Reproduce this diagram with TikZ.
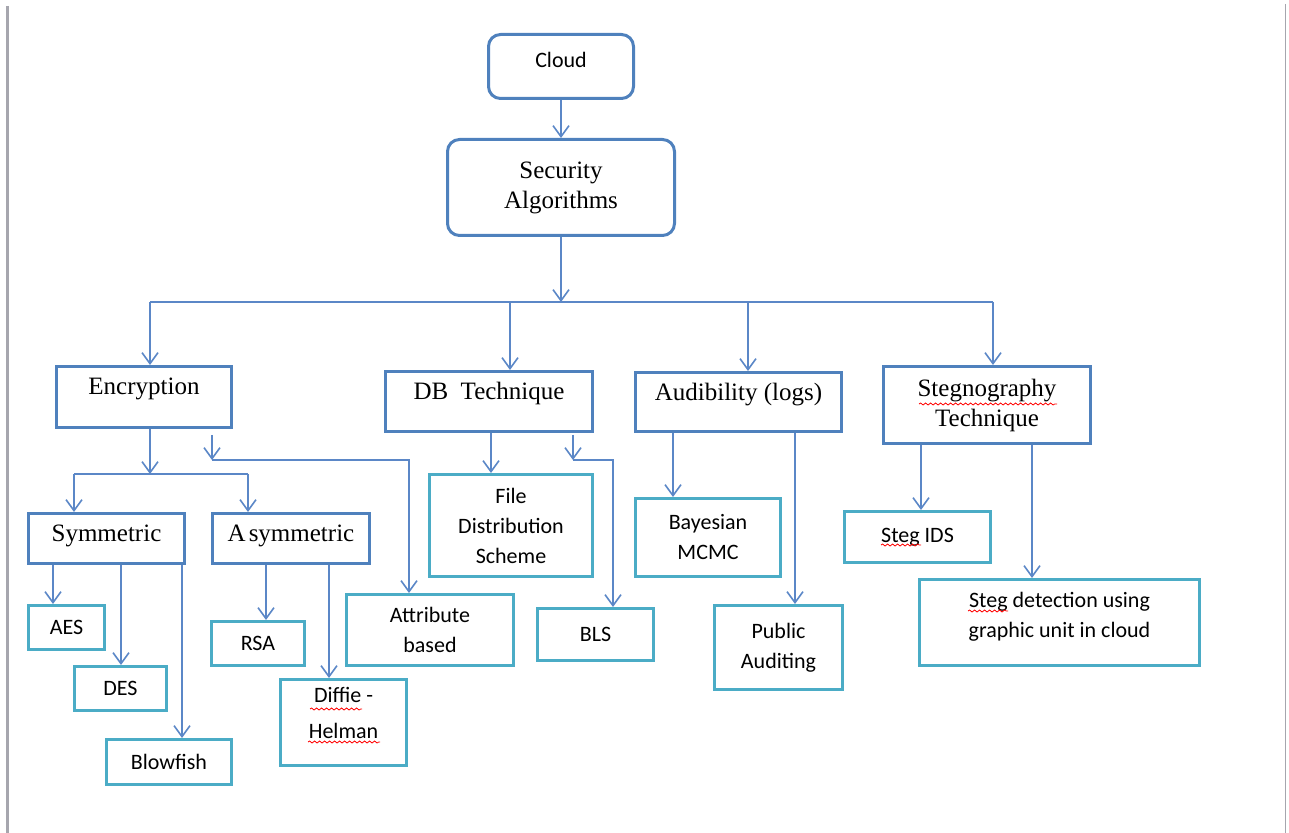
\documentclass[tikz,border=0pt]{standalone}
\usepackage{fontspec}
\setmainfont{Liberation Serif}
\newfontfamily\calibri{Carlito}
\usetikzlibrary{arrows.meta,decorations.pathmorphing}
\definecolor{boxblue}{HTML}{4F81BD}
\definecolor{boxteal}{HTML}{4BACC6}
\definecolor{linkblue}{HTML}{5B87C7}
\definecolor{edgegray}{HTML}{A6A6AE}

\begin{document}
\begin{tikzpicture}[
  x=0.5pt, y=-0.5pt,
  mainbox/.style={draw=boxblue,line width=1.5pt,align=center,inner sep=2pt,font=\fontsize{12.5}{15}\selectfont},
  roundbox/.style={mainbox,rounded corners=6pt},
  subbox/.style={draw=boxteal,line width=1.5pt,align=center,inner sep=2pt,font=\calibri\fontsize{11}{15}\selectfont},
  hightext/.style={text depth=10.5pt},
  link/.style={draw=linkblue,line width=0.8pt},
  arr/.style={link,-{Straight Barb[length=5.5pt,width=8pt]}},
  spell/.style={draw=red,line width=0.4pt,decorate,decoration={snake,amplitude=0.5pt,segment length=2.5pt}}
]
  \useasboundingbox (0,0) rectangle (1289,833);
  \draw[edgegray,line width=1.5pt] (7.5,6) -- (7.5,833);
  \draw[edgegray,line width=0.8pt] (1285.5,4) -- (1285.5,833);

  \node[roundbox,font=\calibri\fontsize{11}{15}\selectfont,text depth=6.7pt,minimum width=72.5pt,minimum height=32pt] (cloud) at (561,66.5) {Cloud};
  \node[roundbox,minimum width=113.5pt,minimum height=48pt] (secalg) at (561,187.5) {Security\\Algorithms};

  \node[mainbox,hightext,minimum width=87.5pt,minimum height=30.5pt] (encr) at (144,397) {Encryption};
  \node[mainbox,hightext,minimum width=103.5pt,minimum height=30pt] (dbtech) at (489,401.5) {DB\ \ Technique};
  \node[mainbox,hightext,minimum width=103pt,minimum height=29.5pt] (audit) at (738.5,402) {Audibility (logs)};
  \node[mainbox,minimum width=103.5pt,minimum height=38.5pt] (stegtech) at (987,405) {Stegnography\\Technique};

  \node[mainbox,text depth=5pt,minimum width=78pt,minimum height=25pt] (sym) at (106.5,538.5) {Symmetric};
  \node[mainbox,text depth=5pt,minimum width=78.5pt,minimum height=25pt] (asym) at (291,538.5) {A\kern1.5pt symmetric};

  \node[subbox,minimum width=38pt,minimum height=22pt] (aes) at (66.5,627.5) {AES};
  \node[subbox,minimum width=46pt,minimum height=22pt] (des) at (120.5,688.5) {DES};
  \node[subbox,minimum width=62.5pt,minimum height=22.5pt] (blow) at (169,762) {Blowfish};
  \node[subbox,minimum width=46.5pt,minimum height=22pt] (rsa) at (258,643.5) {RSA};
  \node[subbox,text depth=9.5pt,minimum width=63pt,minimum height=43pt,font=\calibri\fontsize{11}{18}\selectfont] (diff) at (343.5,722.5) {Diffie -\\Helman};
  \node[subbox,minimum width=83.5pt,minimum height=35.5pt] (attr) at (430,630) {Attribute\\based};
  \node[subbox,minimum width=81.5pt,minimum height=51pt] (file) at (511,525.5) {File\\Distribution\\Scheme};
  \node[subbox,minimum width=58pt,minimum height=26pt] (bls) at (595.5,634.5) {BLS};
  \node[subbox,minimum width=72.5pt,minimum height=39pt] (bayes) at (708,537.5) {Bayesian\\MCMC};
  \node[subbox,minimum width=64pt,minimum height=42pt] (pub) at (778.5,647.5) {Public\\Auditing};
  \node[subbox,minimum width=73pt,minimum height=25.5pt] (stegids) at (917.5,537) {Steg IDS};
  \node[subbox,text depth=7.3pt,minimum width=140pt,minimum height=43pt] (stegdet) at (1059.5,622.5) {Steg detection using\\graphic unit in cloud};

  \draw[arr] (cloud.south) -- (secalg.north);
  \coordinate (topbus) at (561,302);
  \coordinate (dEnc) at (150,302);
  \coordinate (dDb) at (510,302);
  \coordinate (dAud) at (748,302);
  \coordinate (dSteg) at (993,302);
  \draw[arr] (secalg.south) -- (topbus);
  \draw[link] (dEnc) -- (dSteg);
  \foreach \d/\n in {dEnc/encr,dDb/dbtech,dAud/audit,dSteg/stegtech}
    \draw[arr] (\d) -- (\d |- \n.north);

  \coordinate (eBus) at (150,474);
  \coordinate (eSym) at (74,474);
  \coordinate (eAsym) at (248,474);
  \draw[arr] (eBus |- encr.south) -- (eBus);
  \draw[link] (eSym) -- (eAsym);
  \draw[arr] (eSym) -- (eSym |- sym.north);
  \draw[arr] (eAsym) -- (eAsym |- asym.north);

  \coordinate (aStart) at (212,435);
  \coordinate (aTurn) at (212,460);
  \coordinate (aDrop) at (409,460);
  \draw[arr] (aStart) -- (aTurn);
  \draw[arr] (aTurn) -- (aDrop) -- (aDrop |- attr.north);

  \coordinate (bStart) at (573,435);
  \coordinate (bTurn) at (573,460);
  \coordinate (bDrop) at (613,460);
  \draw[arr] (bStart) -- (bTurn);
  \draw[arr] (bTurn) -- (bDrop) -- (bDrop |- bls.north);

  \foreach \n/\p/\x in {aes/sym/53,des/sym/121,blow/sym/182,rsa/asym/266,diff/asym/329,
      file/dbtech/491,bayes/audit/673,pub/audit/795,stegids/stegtech/921,stegdet/stegtech/1032} {
    \coordinate (x\n) at (\x,0);
    \draw[arr] (x\n |- \p.south) -- (x\n |- \n.north);
  }

  \draw[spell] (919,404) -- (1057,404);
  \draw[spell] (310,709) -- (362,709);
  \draw[spell] (308,742) -- (380,742);
  \draw[spell] (881,545) -- (921,545);
  \draw[spell] (968,611) -- (1008,611);
\end{tikzpicture}
\end{document}
